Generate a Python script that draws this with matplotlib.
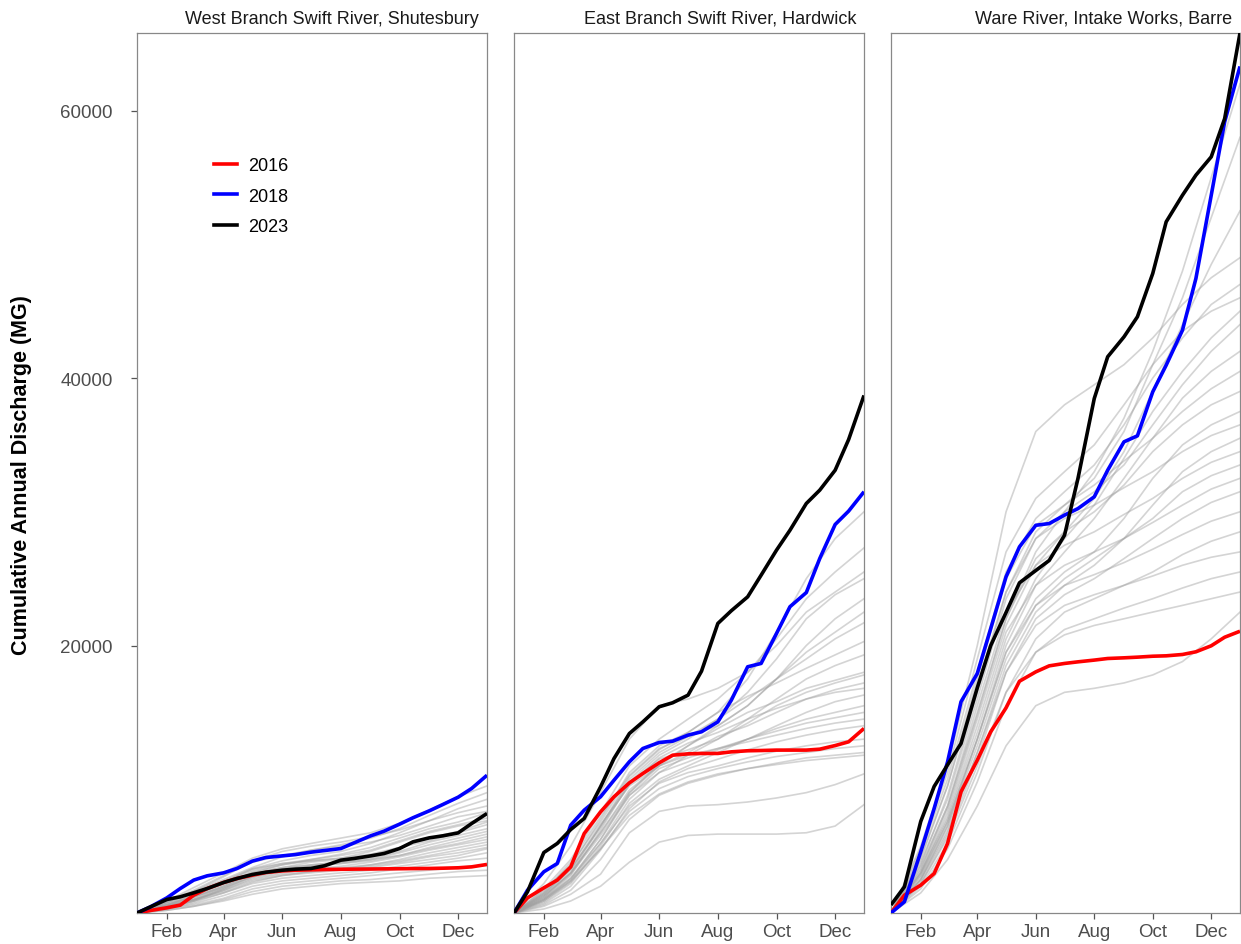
import matplotlib.pyplot as plt
from matplotlib.lines import Line2D

plt.rcParams['font.family'] = ['Liberation Sans', 'DejaVu Sans']

# day-of-year positions for the sampled cumulative totals
month_days = [1, 32, 60, 91, 121, 152, 182, 213, 244, 274, 305, 335, 365]
half_days = [1, 15, 32, 46, 60, 74, 91, 105, 121, 135, 152, 166, 182,
             196, 213, 227, 244, 258, 274, 288, 305, 319, 335, 349, 365]
tick_days = [32, 91, 152, 213, 274, 335]
tick_labels = ["Feb", "Apr", "Jun", "Aug", "Oct", "Dec"]

stations = ["West Branch Swift River, Shutesbury",
            "East Branch Swift River, Hardwick",
            "Ware River, Intake Works, Barre"]
years = ["2016", "2018", "2023"]
year_colors = ["#FF0000", "#0000FF", "#000000"]

# highlighted years, cumulative MG on half_days
west_2016 = [0, 190, 390, 590, 1330, 1830, 2280, 2580, 2830, 3030, 3150, 3200, 3230,
             3250, 3270, 3280, 3290, 3300, 3310, 3320, 3330, 3350, 3380, 3450, 3630]
west_2018 = [0, 460, 1130, 1830, 2460, 2780, 3000, 3330, 3880, 4150, 4270, 4370, 4550,
             4670, 4820, 5250, 5770, 6120, 6640, 7120, 7640, 8110, 8660, 9310, 10300]
west_2023 = [0, 460, 1010, 1210, 1510, 1830, 2280, 2580, 2880, 3050, 3200, 3280, 3330,
             3530, 3950, 4080, 4270, 4450, 4820, 5320, 5620, 5770, 5990, 6690, 7440]

east_2016 = [0, 1130, 1880, 2460, 3450, 5940, 7560, 8690, 9730, 10430, 11230, 11800, 11900,
             11930, 11930, 12050, 12130, 12150, 12180, 12180, 12180, 12250, 12520, 12800, 13800]
east_2018 = [0, 1700, 3080, 3700, 6570, 7690, 8690, 9930, 11310, 12300, 12750, 12850, 13300,
             13550, 14290, 15910, 18410, 18660, 20900, 22900, 23960, 26510, 29050, 30050, 31500]
east_2023 = [0, 1580, 4520, 5200, 6240, 7070, 9430, 11550, 13420, 14290, 15420, 15720, 16290,
             18080, 21650, 22600, 23640, 25260, 27130, 28620, 30620, 31620, 33110, 35400, 38700]

ware_2016 = [0, 1330, 2080, 2950, 5200, 9060, 11430, 13550, 15340, 17330, 18030, 18480, 18660,
             18780, 18910, 19030, 19080, 19130, 19200, 19230, 19330, 19530, 19980, 20620, 21070]
ware_2018 = [0, 840, 4570, 7810, 11300, 15790, 17910, 21270, 25140, 27380, 28990, 29120, 29750,
             30240, 31120, 33110, 35230, 35680, 38970, 40960, 43580, 47440, 53670, 59160, 63300]
ware_2023 = [600, 1960, 6840, 9460, 11080, 12670, 16840, 20000, 22470, 24690, 25610, 26360, 28250,
             32490, 38470, 41590, 43080, 44580, 47820, 51680, 53670, 55170, 56540, 59400, 65800]

# all other years of record, cumulative MG on month_days
west_gray = [
    [0, 900, 1900, 3000, 4100, 4800, 5200, 5600, 6000, 6700, 7700, 8700, 9500],
    [0, 900, 1700, 2800, 3800, 4300, 4700, 5100, 5600, 6300, 7300, 8200, 9000],
    [0, 600, 1300, 2300, 3300, 3900, 4300, 4600, 5200, 6000, 6900, 7800, 8500],
    [0, 800, 1600, 2700, 3900, 4600, 5000, 5300, 5700, 6200, 6900, 7500, 8000],
    [0, 500, 1100, 2000, 3000, 3600, 4000, 4400, 4900, 5600, 6300, 6800, 7500],
    [0, 700, 1400, 2300, 3200, 3700, 4000, 4300, 4700, 5400, 6100, 6600, 7100],
    [0, 600, 1200, 2100, 3100, 3600, 3900, 4100, 4600, 5300, 6000, 6500, 6900],
    [0, 500, 1000, 1900, 2900, 3400, 3800, 4000, 4300, 4900, 5600, 6100, 6800],
    [0, 800, 1500, 2400, 3300, 3700, 3900, 4100, 4400, 4900, 5400, 6000, 6600],
    [0, 400, 900, 1800, 2800, 3300, 3600, 3800, 4100, 4600, 5300, 5800, 6300],
    [0, 600, 1200, 2000, 2900, 3300, 3500, 3700, 4000, 4500, 5100, 5600, 6100],
    [0, 500, 1000, 1800, 2700, 3200, 3500, 3700, 3900, 4300, 4900, 5400, 5900],
    [0, 700, 1300, 2200, 3000, 3400, 3600, 3800, 4000, 4300, 4800, 5200, 5700],
    [0, 400, 900, 1700, 2600, 3000, 3300, 3500, 3800, 4200, 4700, 5100, 5500],
    [0, 500, 1000, 1700, 2500, 2900, 3100, 3300, 3600, 4000, 4500, 4900, 5300],
    [0, 600, 1200, 1900, 2700, 3100, 3300, 3400, 3600, 3900, 4300, 4700, 5100],
    [0, 300, 800, 1500, 2300, 2800, 3100, 3300, 3500, 3800, 4200, 4500, 4900],
    [0, 500, 1000, 1600, 2400, 2800, 3000, 3200, 3400, 3700, 4000, 4300, 4800],
    [0, 400, 900, 1500, 2200, 2600, 2800, 3000, 3200, 3500, 3800, 4100, 4500],
    [0, 300, 700, 1300, 2000, 2400, 2600, 2800, 3000, 3300, 3600, 3900, 4100],
    [0, 300, 600, 1100, 1800, 2200, 2400, 2600, 2800, 3000, 3200, 3400, 3600],
    [0, 200, 500, 1000, 1600, 2000, 2200, 2400, 2500, 2700, 2900, 3100, 3200],
    [0, 200, 500, 900, 1400, 1800, 2000, 2200, 2300, 2400, 2600, 2700, 2800],
    [0, 800, 1600, 2500, 3400, 4200, 4700, 5000, 5300, 5800, 6500, 7200, 7600],
]

east_gray = [
    [0, 1500, 3500, 7000, 10500, 12500, 13500, 15000, 17500, 21000, 25000, 28000, 30000],
    [0, 1800, 4000, 7500, 11000, 13000, 14500, 16000, 18000, 20500, 23500, 25500, 27300],
    [0, 2200, 5000, 9000, 13000, 15500, 16000, 16800, 18000, 20000, 22500, 24000, 25500],
    [0, 1200, 3000, 6500, 10000, 12000, 13200, 14500, 16500, 19000, 22000, 23800, 25000],
    [0, 1600, 3800, 7200, 10300, 12300, 13200, 14000, 15500, 17500, 20000, 22000, 23500],
    [0, 1000, 2500, 5500, 9000, 11000, 12500, 14000, 15500, 17500, 19500, 21000, 22500],
    [0, 1400, 3200, 6500, 9800, 11800, 13000, 14500, 16000, 17500, 19000, 20500, 21700],
    [0, 1700, 3600, 6800, 10200, 12200, 13500, 15000, 16200, 17200, 18300, 19300, 20300],
    [0, 900, 2400, 5200, 8500, 10500, 11800, 13000, 14500, 16000, 17500, 18500, 19300],
    [0, 1300, 3000, 6000, 9000, 11200, 12500, 13800, 15000, 15800, 16800, 17400, 18000],
    [0, 1100, 2800, 6200, 9700, 11500, 12200, 13000, 14200, 15500, 16500, 17200, 17800],
    [0, 1500, 3300, 6600, 9500, 11000, 12000, 13200, 14000, 15000, 16000, 16700, 17200],
    [0, 800, 2200, 5000, 8200, 10000, 11000, 12000, 13000, 14000, 15000, 15800, 16300],
    [0, 1200, 2900, 5800, 8800, 10500, 11300, 12200, 13000, 13800, 14500, 15000, 15500],
    [0, 1000, 2600, 5500, 8800, 10800, 11600, 12300, 13000, 13600, 14200, 14600, 15000],
    [0, 1300, 3000, 6000, 9200, 11000, 11800, 12300, 12800, 13300, 13800, 14200, 14500],
    [0, 700, 2000, 4700, 7800, 9800, 10800, 11500, 12200, 12800, 13300, 13700, 14000],
    [0, 1100, 2600, 5200, 8000, 9700, 10500, 11000, 11600, 12100, 12500, 12800, 13000],
    [0, 900, 2300, 4800, 7600, 9300, 10200, 10800, 11300, 11700, 12000, 12300, 12500],
    [0, 600, 1700, 4000, 7000, 8800, 9700, 10300, 10800, 11200, 11600, 11800, 12000],
    [0, 1000, 2400, 4800, 7300, 8900, 9800, 10400, 10800, 11100, 11400, 11600, 11800],
    [0, 500, 1400, 2900, 6000, 7600, 8000, 8100, 8300, 8600, 9000, 9600, 10400],
    [0, 300, 900, 2000, 3800, 5300, 5800, 5900, 5900, 5900, 6000, 6500, 8100],
    [0, 1400, 3300, 6400, 9600, 11600, 12700, 13500, 14500, 15300, 16000, 16500, 16800],
]

ware_gray = [
    [0, 3500, 8000, 15000, 22000, 27000, 30000, 33000, 37000, 42000, 48000, 55000, 62000],
    [0, 4000, 9500, 17000, 24000, 28500, 30500, 32500, 36000, 41000, 46000, 52000, 58000],
    [0, 3000, 7500, 14500, 21500, 26000, 28500, 31000, 34500, 39000, 44000, 48500, 52500],
    [0, 5000, 11000, 20000, 30000, 36000, 38000, 39500, 41000, 43000, 45500, 47500, 49000],
    [0, 4500, 10000, 18000, 25500, 29500, 31500, 33500, 36500, 40000, 43000, 45500, 47000],
    [0, 3000, 7000, 13500, 20500, 25000, 28000, 30500, 34000, 37500, 40500, 43000, 45000],
    [0, 3800, 8500, 16000, 23500, 28000, 30000, 31500, 33500, 36500, 39500, 42000, 44000],
    [0, 2500, 6500, 13000, 20000, 24500, 27000, 29500, 32500, 35500, 38500, 40500, 42000],
    [0, 4200, 9500, 17500, 25000, 29000, 30500, 32000, 33800, 35500, 37500, 39200, 40500],
    [0, 3200, 7800, 14800, 22000, 26500, 28500, 30000, 32000, 34500, 36500, 38000, 39000],
    [0, 2800, 6800, 13000, 19500, 23500, 25500, 27000, 29500, 32500, 35000, 36500, 37500],
    [0, 3600, 8800, 16500, 24000, 28000, 29500, 30500, 31800, 33000, 34500, 35700, 36500],
    [0, 2400, 6000, 12000, 18500, 22500, 24500, 26000, 28000, 30500, 33000, 34500, 35500],
    [0, 3300, 8000, 15500, 22500, 26000, 27500, 28500, 29800, 31000, 32500, 33700, 34500],
    [0, 2600, 6500, 12500, 19000, 23000, 25000, 26500, 28000, 29500, 31500, 32700, 33500],
    [0, 3000, 7200, 14000, 21000, 24500, 26000, 27000, 28000, 29200, 30500, 31700, 32500],
    [0, 2200, 5800, 11500, 18000, 22000, 23800, 25000, 26500, 28000, 29500, 30700, 31500],
    [0, 2800, 6800, 13000, 19500, 23000, 24500, 25300, 26200, 27200, 28300, 29300, 30000],
    [0, 2000, 5200, 10500, 16500, 20500, 22500, 23500, 24500, 25500, 26800, 27800, 28500],
    [0, 2500, 6200, 12000, 18000, 21500, 23000, 23800, 24500, 25200, 26000, 26600, 27000],
    [0, 1800, 4800, 9800, 15500, 19500, 21200, 22000, 22800, 23500, 24300, 25000, 25500],
    [0, 2200, 5600, 11000, 16500, 19500, 20800, 21500, 22000, 22500, 23000, 23500, 24000],
    [0, 1500, 4000, 8000, 12500, 15500, 16500, 16800, 17200, 17800, 18800, 20500, 22500],
    [0, 4800, 10500, 19000, 27000, 31000, 33000, 35000, 38000, 41000, 43500, 45000, 46000],
]

gray_sets = [west_gray, east_gray, ware_gray]
highlight_sets = [[west_2016, west_2018, west_2023],
                  [east_2016, east_2018, east_2023],
                  [ware_2016, ware_2018, ware_2023]]
y_top = max(max(s) for group in highlight_sets for s in group)

W, H = 1241, 945
fig = plt.figure(figsize=(W / 100, H / 100), dpi=100)
panel_left = [137, 514, 891]
panel_w = [350, 350, 349]

for i in range(3):
    ax = fig.add_axes([panel_left[i] / W, 31 / H, panel_w[i] / W, 880 / H])
    for g in gray_sets[i]:
        ax.plot(month_days, g, color="#a0a0a0", alpha=0.45, lw=1.2, zorder=1)
    for vals, c in zip(highlight_sets[i], year_colors):
        ax.plot(half_days, vals, color=c, lw=2.6, zorder=3, solid_capstyle="butt")

    ax.set_xlim(1, 365)
    ax.set_ylim(0, y_top)
    ax.set_xticks(tick_days)
    ax.set_xticklabels(tick_labels)
    ax.set_yticks([20000, 40000, 60000])
    ax.tick_params(axis="both", direction="out", length=4, width=0.9,
                   color="#555555", labelsize=13.5, labelcolor="#4d4d4d")
    ax.tick_params(axis="x", pad=3.5)
    ax.tick_params(axis="y", pad=13.5)
    if i > 0:
        ax.tick_params(axis="y", left=False, labelleft=False)
    for sp in ax.spines.values():
        sp.set_color("#888888")
        sp.set_linewidth(0.9)
    ax.text(1 - 8 / panel_w[i], 1 + 10 / 880, stations[i], transform=ax.transAxes,
            ha="right", va="baseline", fontsize=13, color="#1a1a1a")

    if i == 0:
        handles = [Line2D([], [], color=c, lw=2.6) for c in year_colors]
        ax.legend(handles, years, loc="upper left", frameon=False,
                  bbox_to_anchor=((214 - 137) / 350, 1 - (158 - 34) / 880),
                  borderaxespad=0, borderpad=0, fontsize=13,
                  handlelength=1.25, handletextpad=0.65, labelspacing=0.75)

fig.text(22 / W, 1 - 475 / H, "Cumulative Annual Discharge (MG)", rotation=90,
         ha="center", va="center", fontsize=15.5, fontweight="bold")

fig.savefig("out.png", dpi=100)
